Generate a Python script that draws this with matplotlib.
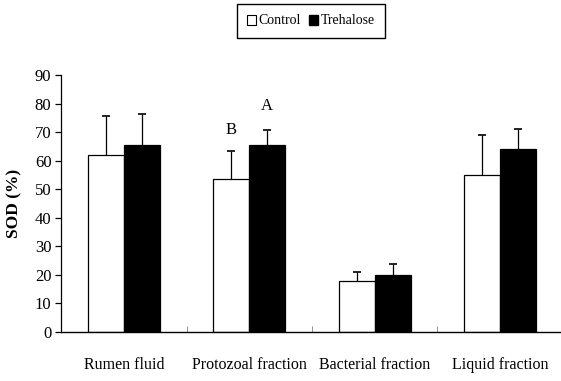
import numpy as np
import matplotlib.pyplot as plt
from matplotlib.patches import Patch

# Datos
categorias = ["Rumen fluid", "Protozoal fraction", "Bacterial fraction", "Liquid fraction"]
control = [62.0, 53.6, 18.0, 55.0]
control_err = [13.6, 9.8, 2.9, 13.9]
trehalosa = [65.5, 65.5, 20.0, 64.2]
trehalosa_err = [10.8, 5.2, 3.7, 7.0]
letras_control = ["", "B", "", ""]
letras_trehalosa = ["", "A", "", ""]

plt.rcParams['font.family'] = ['Liberation Serif', 'DejaVu Serif']

fig = plt.figure(figsize=(5.61, 3.81), dpi=100)
ax = fig.add_axes([0.109, 0.1286, 0.894, 0.6744])

x = np.arange(len(categorias))
w = 0.287

ax.bar(x - w / 2, control, w, color="white", edgecolor="black", linewidth=0.9, zorder=2)
ax.bar(x + w / 2, trehalosa, w, color="black", edgecolor="black", linewidth=0.9, zorder=2)

# Barras de error solo hacia arriba (se oculta el tope inferior)
for xs, vals, errs in [(x - w / 2, control, control_err), (x + w / 2, trehalosa, trehalosa_err)]:
    _, caps, _ = ax.errorbar(xs, vals, yerr=[np.zeros(4), errs], fmt="none",
                             ecolor="black", elinewidth=0.9, capsize=3, capthick=1.2, zorder=3)
    caps[0].set_visible(False)

# Letras de significancia
for i in range(len(categorias)):
    if letras_control[i]:
        ax.text(x[i] - w / 2, control[i] + control_err[i] + 4.5, letras_control[i],
                ha="center", va="bottom", fontsize=12)
    if letras_trehalosa[i]:
        ax.text(x[i] + w / 2, trehalosa[i] + trehalosa_err[i] + 5.8, letras_trehalosa[i],
                ha="center", va="bottom", fontsize=12)

ax.set_xlim(-0.5, 3.5)
ax.set_ylim(0, 90)
ax.set_yticks(range(0, 91, 10))
ax.tick_params(axis="y", direction="out", length=4, width=0.9, labelsize=12, pad=3)

# Marcas del eje x entre categorías, etiquetas centradas
ax.set_xticks([0.5, 1.5, 2.5])
ax.set_xticklabels([])
ax.tick_params(axis="x", direction="in", length=4, width=0.6, color="gray")
for i, c in enumerate(categorias):
    ax.text(x[i], -8.8, c, ha="center", va="top", fontsize=11.5)

for s in ["top", "right"]:
    ax.spines[s].set_visible(False)
ax.spines["left"].set_linewidth(0.9)
ax.spines["bottom"].set_linewidth(1.0)

ax.set_ylabel("SOD (%)", fontsize=12.5, fontweight="bold", labelpad=9)

handles = [Patch(facecolor="white", edgecolor="black", linewidth=0.8, label="Control"),
           Patch(facecolor="black", edgecolor="black", label="Trehalose")]
fig.legend(handles=handles, loc="center", bbox_to_anchor=(311 / 561, 1 - 21 / 381), ncol=2,
           fontsize=10, frameon=True, fancybox=False, edgecolor="black",
           handlelength=0.6, handleheight=0.7, handletextpad=0.2, columnspacing=0.6,
           borderpad=0.75, framealpha=1)

fig.savefig("out.png", dpi=100)
